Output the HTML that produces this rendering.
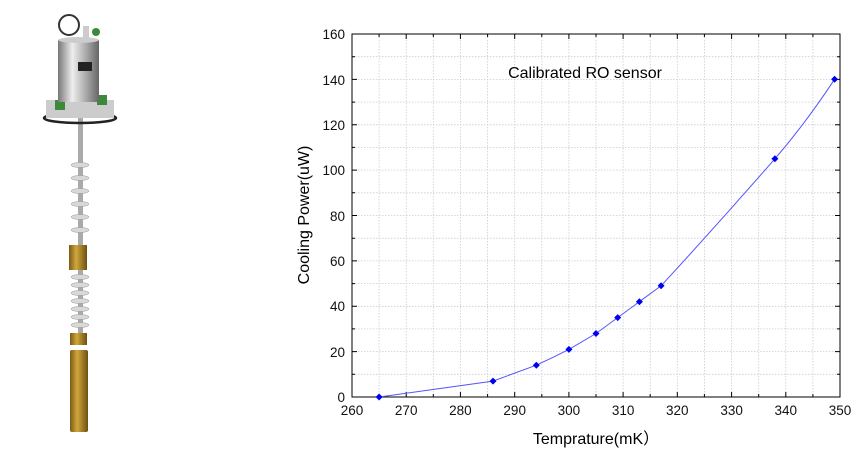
<!DOCTYPE html>
<html><head><meta charset="utf-8"><style>
html,body{margin:0;padding:0;background:#fff;}
svg{display:block;font-family:"Liberation Sans",Arial,sans-serif;}
</style></head><body>
<svg width="860" height="458" viewBox="0 0 860 458" xmlns="http://www.w3.org/2000/svg">
<defs>
<linearGradient id="sil" x1="0" x2="1"><stop offset="0" stop-color="#777"/><stop offset="0.35" stop-color="#eee"/><stop offset="0.6" stop-color="#bbb"/><stop offset="1" stop-color="#666"/></linearGradient>
<linearGradient id="gold" x1="0" x2="1"><stop offset="0" stop-color="#7a5a16"/><stop offset="0.4" stop-color="#d0a83c"/><stop offset="1" stop-color="#6e4f12"/></linearGradient>
</defs>
<!-- apparatus -->
<rect x="78" y="118" width="5" height="132" fill="#aaa"/>
<g fill="#d8d8d8" stroke="#999" stroke-width="0.5">
<ellipse cx="80" cy="165" rx="9" ry="2.5"/><ellipse cx="80" cy="178" rx="9" ry="2.5"/><ellipse cx="80" cy="191" rx="9" ry="2.5"/><ellipse cx="80" cy="204" rx="9" ry="2.5"/><ellipse cx="80" cy="217" rx="9" ry="2.5"/><ellipse cx="80" cy="230" rx="9" ry="2.5"/>
</g>
<rect x="69" y="245" width="18" height="25" fill="url(#gold)"/>
<rect x="78" y="270" width="5" height="65" fill="#aaa"/>
<g fill="#d8d8d8" stroke="#999" stroke-width="0.5">
<ellipse cx="80" cy="277" rx="9" ry="2.5"/><ellipse cx="80" cy="285" rx="9" ry="2.5"/><ellipse cx="80" cy="293" rx="9" ry="2.5"/><ellipse cx="80" cy="301" rx="9" ry="2.5"/><ellipse cx="80" cy="309" rx="9" ry="2.5"/><ellipse cx="80" cy="317" rx="9" ry="2.5"/><ellipse cx="80" cy="325" rx="9" ry="2.5"/>
</g>
<rect x="70" y="333" width="17" height="12" fill="url(#gold)"/>
<rect x="70" y="350" width="18" height="82" rx="2" fill="url(#gold)"/>
<ellipse cx="80" cy="118" rx="36" ry="5" fill="none" stroke="#222" stroke-width="2.5"/>
<rect x="46" y="100" width="68" height="18" fill="#ccc"/>
<rect x="55" y="100" width="10" height="10" fill="#3a8a3a"/><rect x="97" y="95" width="10" height="10" fill="#3a8a3a"/>
<rect x="58" y="40" width="41" height="62" fill="url(#sil)"/>
<ellipse cx="78.5" cy="40" rx="20.5" ry="3" fill="#ccc"/>
<rect x="78" y="62" width="14" height="9" fill="#222"/>
<circle cx="69" cy="25" r="10" fill="#fff" stroke="#333" stroke-width="2"/>
<rect x="83" y="26" width="6" height="14" fill="#ccc"/>
<circle cx="96" cy="32" r="4" fill="#3a8a3a"/>
<!-- grid -->
<g stroke="#ccc" stroke-width="0.8" stroke-dasharray="1.5,1.5">
<line x1="379.1" y1="34" x2="379.1" y2="397"/><line x1="406.2" y1="34" x2="406.2" y2="397"/><line x1="433.3" y1="34" x2="433.3" y2="397"/><line x1="460.4" y1="34" x2="460.4" y2="397"/><line x1="487.6" y1="34" x2="487.6" y2="397"/><line x1="514.7" y1="34" x2="514.7" y2="397"/><line x1="541.8" y1="34" x2="541.8" y2="397"/><line x1="568.9" y1="34" x2="568.9" y2="397"/><line x1="596" y1="34" x2="596" y2="397"/><line x1="623.1" y1="34" x2="623.1" y2="397"/><line x1="650.2" y1="34" x2="650.2" y2="397"/><line x1="677.3" y1="34" x2="677.3" y2="397"/><line x1="704.4" y1="34" x2="704.4" y2="397"/><line x1="731.6" y1="34" x2="731.6" y2="397"/><line x1="758.7" y1="34" x2="758.7" y2="397"/><line x1="785.8" y1="34" x2="785.8" y2="397"/><line x1="812.9" y1="34" x2="812.9" y2="397"/>
<line x1="352" y1="374.3" x2="840" y2="374.3"/><line x1="352" y1="351.6" x2="840" y2="351.6"/><line x1="352" y1="328.9" x2="840" y2="328.9"/><line x1="352" y1="306.3" x2="840" y2="306.3"/><line x1="352" y1="283.6" x2="840" y2="283.6"/><line x1="352" y1="260.9" x2="840" y2="260.9"/><line x1="352" y1="238.2" x2="840" y2="238.2"/><line x1="352" y1="215.5" x2="840" y2="215.5"/><line x1="352" y1="192.8" x2="840" y2="192.8"/><line x1="352" y1="170.1" x2="840" y2="170.1"/><line x1="352" y1="147.4" x2="840" y2="147.4"/><line x1="352" y1="124.8" x2="840" y2="124.8"/><line x1="352" y1="102.1" x2="840" y2="102.1"/><line x1="352" y1="79.4" x2="840" y2="79.4"/><line x1="352" y1="56.7" x2="840" y2="56.7"/>
</g>
<rect x="352" y="34" width="488" height="363" fill="none" stroke="#000" stroke-width="1"/>
<!-- ticks -->
<g stroke="#000" stroke-width="1">
<path d="M406.2 397v-5M460.4 397v-5M514.7 397v-5M568.9 397v-5M623.1 397v-5M677.3 397v-5M731.6 397v-5M785.8 397v-5M379.1 397v-3M433.3 397v-3M487.6 397v-3M541.8 397v-3M596 397v-3M650.2 397v-3M704.4 397v-3M758.7 397v-3M812.9 397v-3"/>
<path d="M406.2 34v5M460.4 34v5M514.7 34v5M568.9 34v5M623.1 34v5M677.3 34v5M731.6 34v5M785.8 34v5M379.1 34v3M433.3 34v3M487.6 34v3M541.8 34v3M596 34v3M650.2 34v3M704.4 34v3M758.7 34v3M812.9 34v3"/>
<path d="M352 351.6h5M352 306.3h5M352 260.9h5M352 215.5h5M352 170.1h5M352 124.8h5M352 79.4h5M352 374.3h3M352 328.9h3M352 283.6h3M352 238.2h3M352 192.8h3M352 147.4h3M352 102.1h3M352 56.7h3"/>
<path d="M840 351.6h-5M840 306.3h-5M840 260.9h-5M840 215.5h-5M840 170.1h-5M840 124.8h-5M840 79.4h-5M840 374.3h-3M840 328.9h-3M840 283.6h-3M840 238.2h-3M840 192.8h-3M840 147.4h-3M840 102.1h-3M840 56.7h-3"/>
</g>
<g font-size="13.5" fill="#111" text-anchor="middle">
<text x="352" y="415">260</text><text x="406.2" y="415">270</text><text x="460.4" y="415">280</text><text x="514.7" y="415">290</text><text x="568.9" y="415">300</text><text x="623.1" y="415">310</text><text x="677.3" y="415">320</text><text x="731.6" y="415">330</text><text x="785.8" y="415">340</text><text x="840" y="415">350</text>
</g>
<g font-size="13.5" fill="#111" text-anchor="end">
<text x="345" y="402">0</text><text x="345" y="357">20</text><text x="345" y="311">40</text><text x="345" y="266">60</text><text x="345" y="221">80</text><text x="345" y="175">100</text><text x="345" y="130">120</text><text x="345" y="85">140</text><text x="345" y="39">160</text>
</g>
<text x="596" y="444" font-size="16" text-anchor="middle">Temprature(mK）</text>
<text transform="translate(309,215) rotate(-90)" font-size="16" text-anchor="middle">Cooling Power(uW)</text>
<text x="585" y="78" font-size="16" text-anchor="middle">Calibrated RO sensor</text>
<!-- series -->
<path fill="none" stroke="#5555ff" stroke-width="1" d="M379.1,397 L493,381.1 L536.3,365.2 Q553,357.5 568.9,349.4 L596,333.5 L617.7,317.6 L639.4,301.7 L661.1,285.8 Q718,224 774.9,158.8 Q805,124 834.6,79.3"/>
<g fill="#0000ee">
<path d="M379.1 393.5l3.5 3.5-3.5 3.5-3.5-3.5z"/><path d="M493 377.6l3.5 3.5-3.5 3.5-3.5-3.5z"/><path d="M536.3 361.7l3.5 3.5-3.5 3.5-3.5-3.5z"/><path d="M568.9 345.9l3.5 3.5-3.5 3.5-3.5-3.5z"/><path d="M596 330l3.5 3.5-3.5 3.5-3.5-3.5z"/><path d="M617.7 314.1l3.5 3.5-3.5 3.5-3.5-3.5z"/><path d="M639.4 298.2l3.5 3.5-3.5 3.5-3.5-3.5z"/><path d="M661.1 282.3l3.5 3.5-3.5 3.5-3.5-3.5z"/><path d="M774.9 155.3l3.5 3.5-3.5 3.5-3.5-3.5z"/><path d="M834.6 75.8l3.5 3.5-3.5 3.5-3.5-3.5z"/>
</g>
</svg>
</body></html>
